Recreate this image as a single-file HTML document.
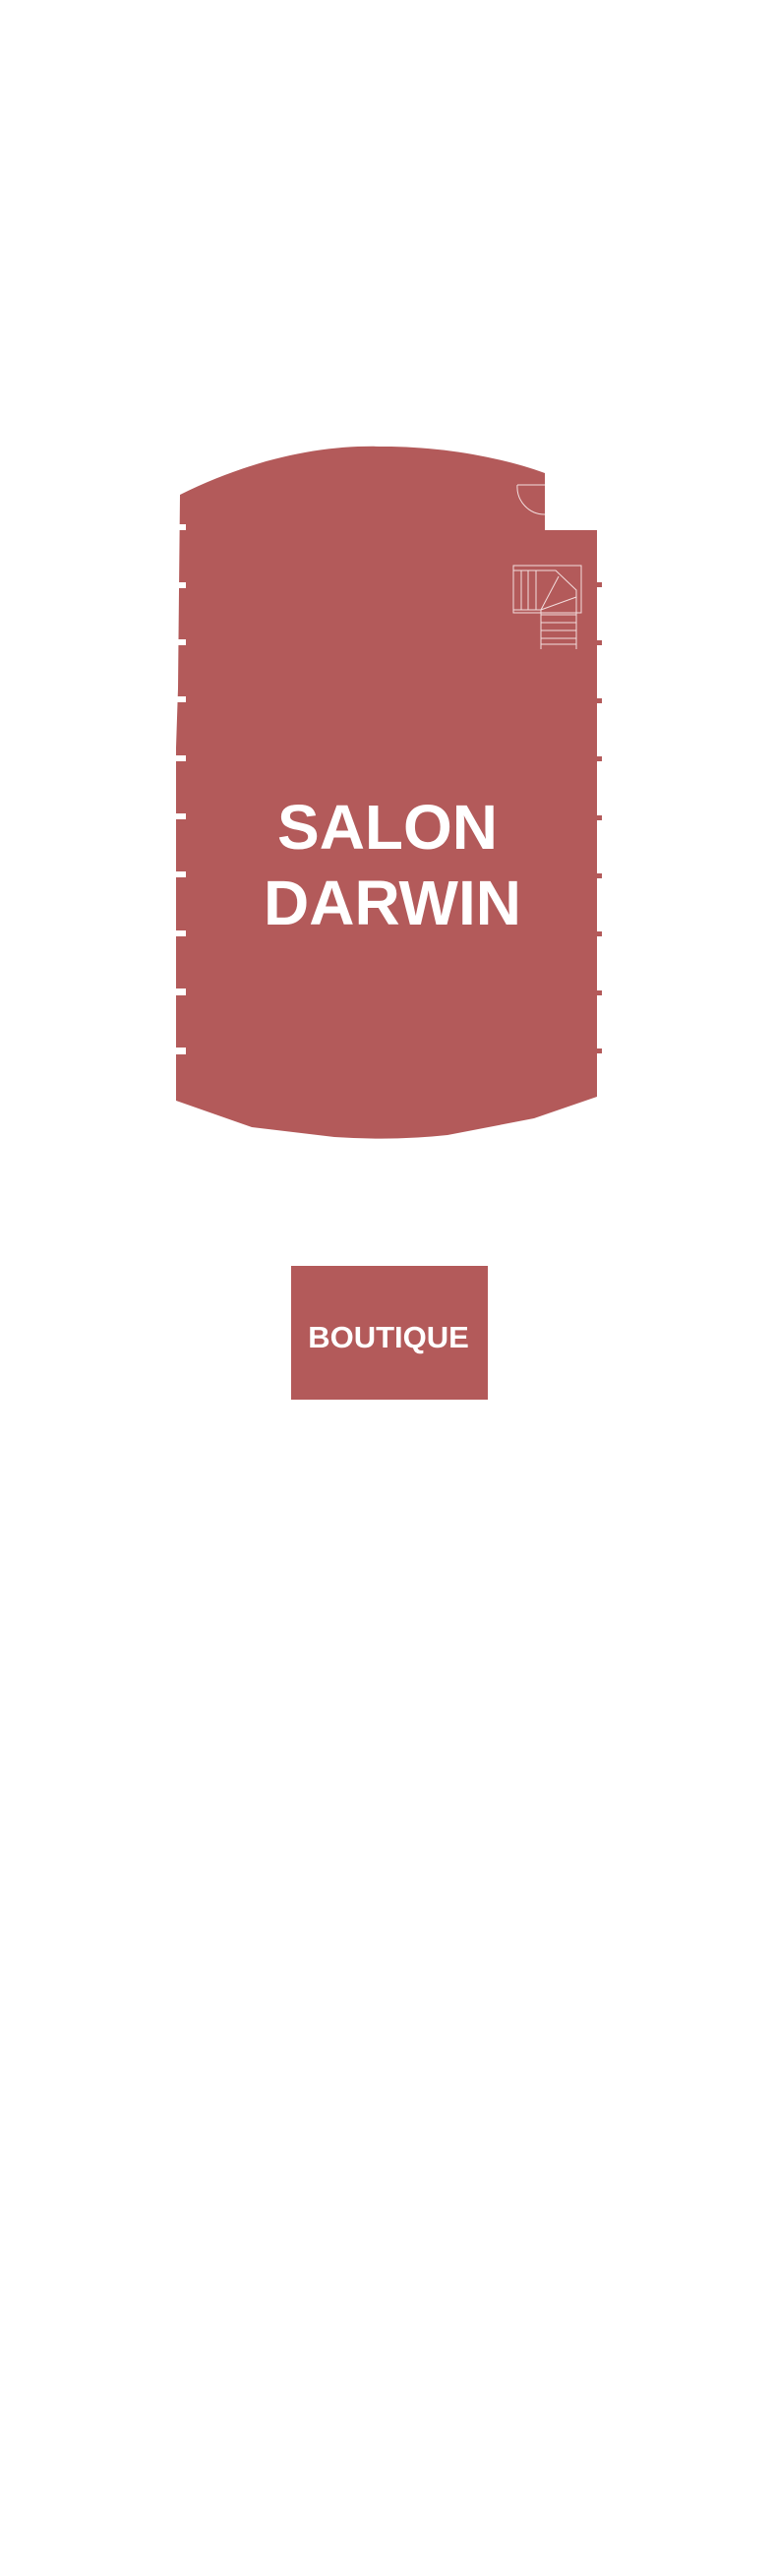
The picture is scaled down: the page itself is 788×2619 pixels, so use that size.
<!DOCTYPE html>
<html><head><meta charset="utf-8"><style>
html,body{margin:0;padding:0;background:#fff;width:788px;height:2619px;overflow:hidden}
svg{display:block}
text{font-family:"Liberation Sans",sans-serif;font-weight:bold;fill:#fff}
</style></head><body>
<svg width="788" height="2619" viewBox="0 0 788 2619" xmlns="http://www.w3.org/2000/svg">
<g fill="#b35a5a">
<path d="M183,503 C260,465 330,452 390,454 C450,454 510,465 554,481 L554,539 L607,539 L607,1115 L543,1137 L455,1154 Q400,1160 340,1156 L256,1146 L179,1119 L179,760 L181,700 L182,600 Z"/>
<rect x="296" y="1287" width="200" height="136"/>
<rect x="607" y="592" width="5" height="5"/><rect x="607" y="651" width="5" height="5"/>
<rect x="607" y="710" width="5" height="5"/><rect x="607" y="769" width="5" height="5"/>
<rect x="607" y="829" width="5" height="5"/><rect x="607" y="888" width="5" height="5"/>
<rect x="607" y="947" width="5" height="5"/><rect x="607" y="1007" width="5" height="5"/>
<rect x="607" y="1066" width="5" height="5"/>
</g>
<g fill="#fff">
<rect x="178" y="533" width="11" height="6"/><rect x="178" y="592" width="11" height="6"/>
<rect x="178" y="650" width="11" height="6"/><rect x="178" y="708" width="11" height="6"/>
<rect x="178" y="768" width="11" height="6"/><rect x="178" y="827" width="11" height="6"/>
<rect x="178" y="886" width="11" height="6"/><rect x="178" y="946" width="11" height="6"/>
<rect x="178" y="1005" width="11" height="7"/><rect x="178" y="1065" width="11" height="7"/>
</g>
<g fill="none" stroke="#f3dede" stroke-width="1">
<path d="M526,493 L554,493"/><path d="M526,493 A28,28 0 0 0 554,523"/>
<rect x="522" y="575" width="69" height="48"/>
<path d="M522,580 L565,580 L586,600 L586,655 L550,655 L550,620 L522,620"/>
<path d="M530,580 V620 M537,580 V620 M545,580 V620"/>
<path d="M550,620 L568,586 M550,620 L586,607"/>
<path d="M550,625 H586 M550,633 H586 M550,641 H586 M550,649 H586"/>
<path d="M550,620 V660 M586,600 V660"/>
</g>
<text x="394" y="863" font-size="64" text-anchor="middle">SALON</text>
<text x="399" y="940" font-size="64" text-anchor="middle">DARWIN</text>
<text x="395" y="1370" font-size="31" text-anchor="middle">BOUTIQUE</text>
</svg>
</body></html>
